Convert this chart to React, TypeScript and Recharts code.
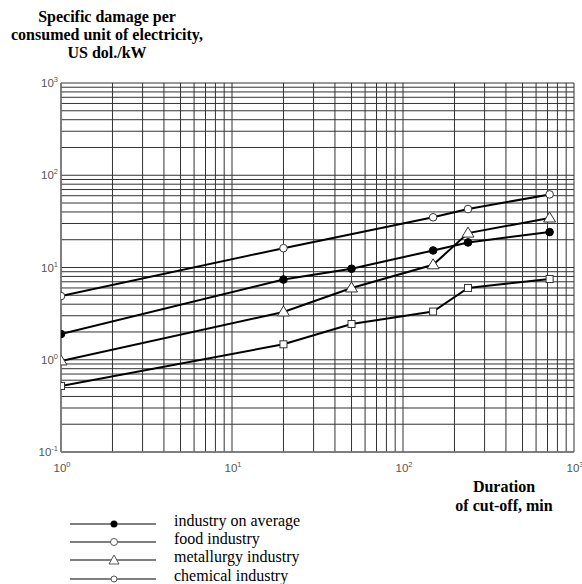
import React from "react";
import { CartesianGrid, Line, LineChart, XAxis, YAxis } from "recharts";

// duration of cut-off, min
const durations = [1, 20, 50, 150, 240, 720];
const foodDurations = [1, 20, 150, 240, 720];

// specific damage, US dol./kW
const averageDamage = [1.9, 7.4, 9.7, 15.3, 18.7, 24.2];
const foodDamage = [4.9, 16.2, 35, 43, 62];
const metallurgyDamage = [0.97, 3.3, 6.0, 10.7, 23.6, 34.4];
const chemicalDamage = [0.52, 1.47, 2.44, 3.33, 6.0, 7.5];

const xTicks = [1, 2, 3, 4, 5, 6, 7, 8, 9, 10, 20, 30, 40, 50, 60, 70, 80, 90, 100, 200, 300, 400, 500, 600, 700, 800, 900, 1000];
const yTicks = [0.1, 0.2, 0.3, 0.4, 0.5, 0.6, 0.7, 0.8, 0.9, 1, 2, 3, 4, 5, 6, 7, 8, 9, 10, 20, 30, 40, 50, 60, 70, 80, 90, 100, 200, 300, 400, 500, 600, 700, 800, 900, 1000];
const decadeExponents: Record<string, string> = { "0.1": "-1", "1": "0", "10": "1", "100": "2", "1000": "3" };

const legendNames = ["industry on average", "food industry", "metallurgy industry", "chemical industry"];

const toPoints = (xs: number[], ys: number[]) => xs.map((t, i) => ({ t, v: ys[i] }));

const tickFont = "'Liberation Sans', Arial, sans-serif";
const serifFont = "'Liberation Serif', 'Times New Roman', serif";

const XTick = ({ x, y, payload }: any) => {
    const exp = decadeExponents[String(payload.value)];
    if (exp === undefined) return null;
    return (
        <text x={x + 1} y={y + 20} textAnchor="middle" fontFamily={tickFont} fontSize={11.5} fill="#555">
            <tspan>10</tspan>
            <tspan dy={-5} fontSize={7.5}>{exp}</tspan>
        </text>
    );
};

const YTick = ({ x, y, payload }: any) => {
    const exp = decadeExponents[String(payload.value)];
    if (exp === undefined) return null;
    return (
        <text x={x - 3} y={y + 4} textAnchor="end" fontFamily={tickFont} fontSize={11.5} fill="#555">
            <tspan>10</tspan>
            <tspan dy={-5} fontSize={7.5}>{exp}</tspan>
        </text>
    );
};

const FilledDot = ({ cx, cy, index }: any) => (
    <circle key={`a${index}`} cx={cx} cy={cy} r={3.8} fill="#000" stroke="#000" />
);
const OpenDot = ({ cx, cy, index }: any) => (
    <circle key={`f${index}`} cx={cx} cy={cy} r={3.8} fill="#fff" stroke="#333" strokeWidth={1} />
);
const TriangleDot = ({ cx, cy, index }: any) => (
    <path key={`m${index}`} d={`M${cx},${cy - 6} L${cx + 6},${cy + 4} L${cx - 6},${cy + 4} Z`} fill="#fff" stroke="#333" strokeWidth={1} />
);
const SquareDot = ({ cx, cy, index }: any) => (
    <rect key={`c${index}`} x={cx - 3.5} y={cy - 3.5} width={7} height={7} fill="#fff" stroke="#333" strokeWidth={1} />
);

const LegendMarker = ({ kind, x, y }: { kind: number; x: number; y: number }) => {
    if (kind === 0) return <circle cx={x} cy={y} r={3.5} fill="#000" />;
    if (kind === 1) return <circle cx={x} cy={y} r={3.5} fill="#fff" stroke="#555" />;
    if (kind === 2) return <path d={`M${x},${y - 5} L${x + 5},${y + 4} L${x - 5},${y + 4} Z`} fill="#fff" stroke="#555" />;
    return <circle cx={x} cy={y} r={3} fill="#fff" stroke="#555" />;
};

const App = () => {
    const rows = [524, 542, 560, 579];
    return (
        <div style={{ position: "absolute", left: 0, top: 0, width: 582, height: 584, background: "#fff" }}>
            <LineChart width={582} height={584} margin={{ top: 83, right: 8, bottom: 0, left: 0 }}>
                <CartesianGrid stroke="#333" strokeWidth={1} />
                <XAxis
                    dataKey="t"
                    type="number"
                    scale="log"
                    domain={[1, 1000]}
                    ticks={xTicks}
                    interval={0}
                    height={132}
                    tickSize={0}
                    tickMargin={0}
                    tick={<XTick />}
                    axisLine={{ stroke: "#777", strokeWidth: 1.5 }}
                    allowDataOverflow
                />
                <YAxis
                    type="number"
                    scale="log"
                    domain={[0.1, 1000]}
                    ticks={yTicks}
                    interval={0}
                    width={61}
                    tickSize={0}
                    tickMargin={0}
                    tick={<YTick />}
                    axisLine={{ stroke: "#777", strokeWidth: 1.5 }}
                    allowDataOverflow
                />
                <Line data={toPoints(foodDurations, foodDamage)} dataKey="v" stroke="#000" strokeWidth={2} dot={OpenDot} isAnimationActive={false} />
                <Line data={toPoints(durations, averageDamage)} dataKey="v" stroke="#000" strokeWidth={2} dot={FilledDot} isAnimationActive={false} />
                <Line data={toPoints(durations, metallurgyDamage)} dataKey="v" stroke="#000" strokeWidth={2} dot={TriangleDot} isAnimationActive={false} />
                <Line data={toPoints(durations, chemicalDamage)} dataKey="v" stroke="#000" strokeWidth={2} dot={SquareDot} isAnimationActive={false} />
            </LineChart>
            <svg width={582} height={584} style={{ position: "absolute", left: 0, top: 0, pointerEvents: "none" }}>
                <text textAnchor="middle" fontFamily={serifFont} fontWeight="bold" fontSize={16} fill="#000">
                    <tspan x={107} y={22}>Specific damage per</tspan>
                    <tspan x={107} y={40}>consumed unit of electricity,</tspan>
                    <tspan x={107} y={58}>US dol./kW</tspan>
                </text>
                <text textAnchor="middle" fontFamily={serifFont} fontWeight="bold" fontSize={16} fill="#000">
                    <tspan x={504} y={492}>Duration</tspan>
                    <tspan x={504} y={511}>of cut-off, min</tspan>
                </text>
                {legendNames.map((name, i) => (
                    <g key={name}>
                        <line x1={70} x2={156} y1={rows[i]} y2={rows[i]} stroke="#555" strokeWidth={1.5} />
                        <LegendMarker kind={i} x={114} y={rows[i]} />
                        <text x={174} y={rows[i] + 2} fontFamily={serifFont} fontSize={16} fill="#000">{name}</text>
                    </g>
                ))}
            </svg>
        </div>
    );
};

export default App;
